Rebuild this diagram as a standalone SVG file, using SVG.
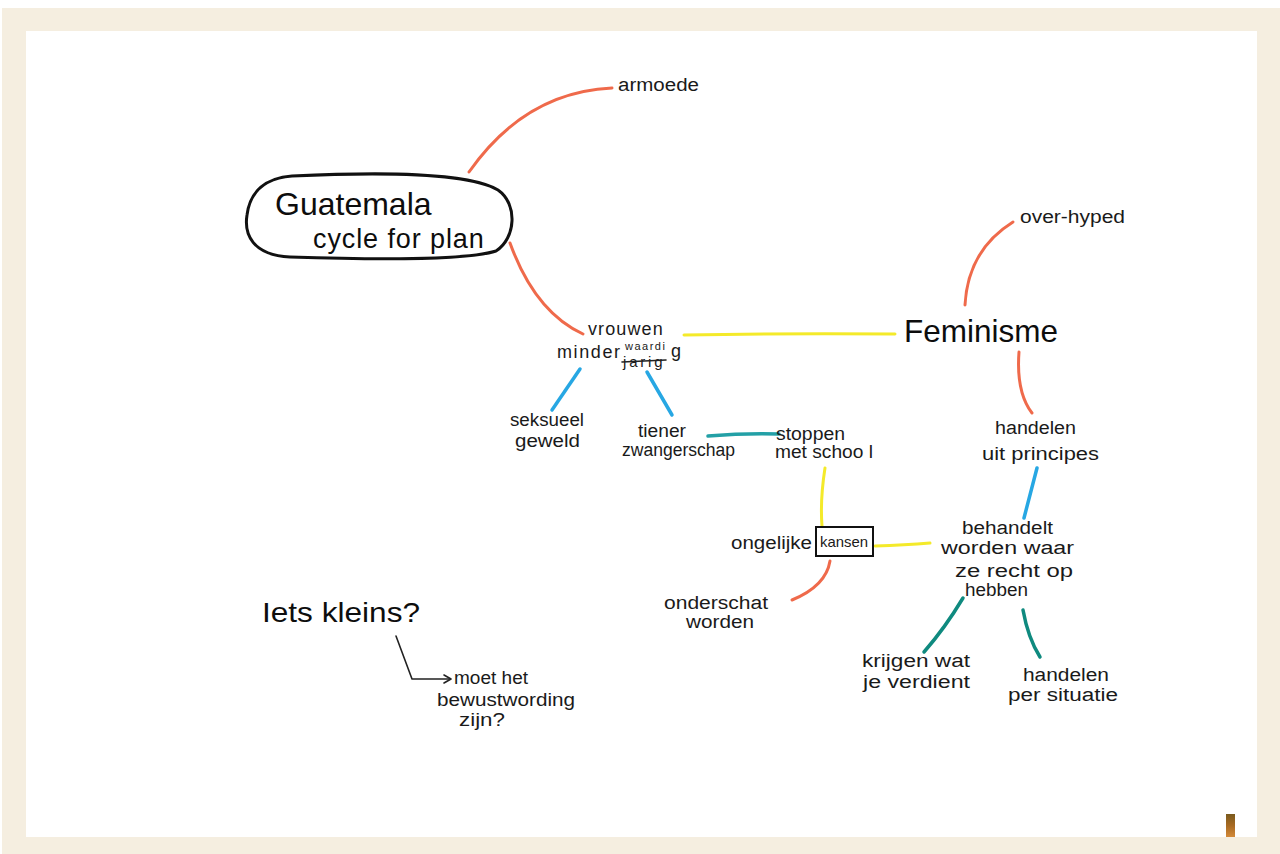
<svg xmlns="http://www.w3.org/2000/svg" width="1280" height="854" viewBox="0 0 1280 854">
  <defs>
    <style>
      .lbl { font-family: "Liberation Sans", "DejaVu Sans", sans-serif; font-size: 18px; fill: #1a1a1a; }
      .big { font-family: "Liberation Sans", "DejaVu Sans", sans-serif; fill: #0d0d0d; }
      .red { stroke: #ef6a4b; stroke-width: 3; fill: none; stroke-linecap: round; }
      .yel { stroke: #f4ea2a; stroke-width: 3; fill: none; stroke-linecap: round; }
      .blu { stroke: #27a7e3; stroke-width: 3.5; fill: none; stroke-linecap: round; }
      .tea { stroke: #0f8a7f; stroke-width: 3.5; fill: none; stroke-linecap: round; }
      .cyn { stroke: #23a0a6; stroke-width: 3.5; fill: none; stroke-linecap: round; }
      .ink { stroke: #222; stroke-width: 1.6; fill: none; stroke-linecap: round; stroke-linejoin: round; }
    </style>
    <linearGradient id="chip" x1="0" y1="0" x2="0" y2="1">
      <stop offset="0" stop-color="#7a5a1e"/>
      <stop offset="0.5" stop-color="#a86a22"/>
      <stop offset="1" stop-color="#d48a3a"/>
    </linearGradient>
  </defs>

  <!-- mat and paper -->
  <rect x="0" y="0" width="1280" height="854" fill="#ffffff"/>
  <rect x="2" y="8" width="1278" height="846" fill="#f5eee0"/>
  <rect x="26" y="31" width="1231" height="806" fill="#ffffff"/>
  <rect x="1226" y="814" width="9" height="23" fill="url(#chip)"/>

  <!-- connectors -->
  <g id="connectors">
    <path class="red" d="M469,172 Q525,92 612,88"/>
    <path class="red" d="M510,243 Q535,312 583,334"/>
    <path class="yel" d="M684,335 Q790,333 895,334"/>
    <path class="red" d="M965,305 Q968,250 1013,222"/>
    <path class="red" d="M1019,352 Q1016,392 1032,413"/>
    <path class="blu" d="M580,369 L552,410"/>
    <path class="blu" d="M647,372 L672,415"/>
    <path class="cyn" d="M708,436 Q745,433 779,434"/>
    <path class="yel" d="M825,468 Q820,500 822,526"/>
    <path class="yel" d="M875,546 Q905,545 930,543"/>
    <path class="blu" d="M1037,468 L1024,518"/>
    <path class="red" d="M830,561 Q826,586 792,600"/>
    <path class="tea" d="M963,598 Q945,628 924,652"/>
    <path class="tea" d="M1023,610 Q1028,638 1040,657"/>
    <path class="ink" d="M396,636 L412,679 L450,679"/>
    <path class="ink" d="M444,675 L451,679 L444,683"/>
  </g>

  <!-- central topic -->
  <g id="guatemala">
    <path d="M292,176 C380,172 468,172 498,190 C518,204 516,238 496,251 C462,262 352,259 290,257 C252,255 244,234 247,215 C250,191 266,178 292,176 Z" fill="none" stroke="#111" stroke-width="3"/>
    <text class="big" x="275" y="215" font-size="32">Guatemala</text>
    <text class="big" x="313" y="248" font-size="27" letter-spacing="0.9">cycle for plan</text>
  </g>

  <g id="armoede">
    <text class="lbl" x="618" y="91" textLength="81" lengthAdjust="spacingAndGlyphs">armoede</text>
  </g>

  <!-- "minderjarig" corrected by hand to "minderwaardig" -->
  <g id="vrouwen">
    <text class="lbl" x="588" y="335" letter-spacing="1.1">vrouwen</text>
    <text class="lbl" x="557" y="358" letter-spacing="1.6">minder</text>
    <text class="lbl" x="623" y="367" style="font-size:15px" letter-spacing="2.8">jarig</text>
    <text class="lbl" x="625" y="350" style="font-size:11px" letter-spacing="1.5">waardi</text>
    <text class="lbl" x="671" y="357">g</text>
    <path class="ink" d="M622,362 L666,360"/>
  </g>

  <g id="feminisme">
    <text class="big" x="904" y="342" font-size="32" textLength="154" lengthAdjust="spacingAndGlyphs">Feminisme</text>
  </g>

  <g id="overhyped">
    <text class="lbl" x="1020" y="223" textLength="105" lengthAdjust="spacingAndGlyphs">over-hyped</text>
  </g>

  <g id="principes">
    <text class="lbl" x="995" y="434" textLength="81" lengthAdjust="spacingAndGlyphs">handelen</text>
    <text class="lbl" x="982" y="460" textLength="117" lengthAdjust="spacingAndGlyphs">uit  principes</text>
  </g>

  <g id="seksueel">
    <text class="lbl" x="510" y="426" textLength="74" lengthAdjust="spacingAndGlyphs">seksueel</text>
    <text class="lbl" x="515" y="447" textLength="65" lengthAdjust="spacingAndGlyphs">geweld</text>
  </g>

  <g id="tiener">
    <text class="lbl" x="638" y="437" textLength="48" lengthAdjust="spacingAndGlyphs">tiener</text>
    <text class="lbl" x="622" y="456" textLength="113" lengthAdjust="spacingAndGlyphs">zwangerschap</text>
  </g>

  <g id="stoppen">
    <text class="lbl" x="776" y="440" textLength="69" lengthAdjust="spacingAndGlyphs">stoppen</text>
    <text class="lbl" x="775" y="458" textLength="98" lengthAdjust="spacingAndGlyphs">met schoo l</text>
  </g>

  <g id="kansen">
    <text class="lbl" x="731" y="549" textLength="81" lengthAdjust="spacingAndGlyphs">ongelijke</text>
    <rect x="816" y="527" width="57" height="29" fill="none" stroke="#111" stroke-width="2"/>
    <text class="lbl" x="820" y="547" style="font-size:15px" textLength="48" lengthAdjust="spacingAndGlyphs">kansen</text>
  </g>

  <g id="onderschat">
    <text class="lbl" x="664" y="609" textLength="104" lengthAdjust="spacingAndGlyphs">onderschat</text>
    <text class="lbl" x="686" y="628" textLength="68" lengthAdjust="spacingAndGlyphs">worden</text>
  </g>

  <g id="behandelt">
    <text class="lbl" x="962" y="534" textLength="91" lengthAdjust="spacingAndGlyphs">behandelt</text>
    <text class="lbl" x="941" y="554" textLength="133" lengthAdjust="spacingAndGlyphs">worden waar</text>
    <text class="lbl" x="955" y="577" textLength="118" lengthAdjust="spacingAndGlyphs">ze  recht  op</text>
    <text class="lbl" x="965" y="596" textLength="63" lengthAdjust="spacingAndGlyphs">hebben</text>
  </g>

  <g id="krijgen">
    <text class="lbl" x="862" y="667" textLength="108" lengthAdjust="spacingAndGlyphs">krijgen  wat</text>
    <text class="lbl" x="863" y="688" textLength="107" lengthAdjust="spacingAndGlyphs">je verdient</text>
  </g>

  <g id="situatie">
    <text class="lbl" x="1023" y="681" textLength="86" lengthAdjust="spacingAndGlyphs">handelen</text>
    <text class="lbl" x="1008" y="701" textLength="110" lengthAdjust="spacingAndGlyphs">per situatie</text>
  </g>

  <g id="iets-kleins">
    <text class="big" x="262" y="622" font-size="28" textLength="158" lengthAdjust="spacingAndGlyphs">Iets kleins?</text>
  </g>

  <g id="bewustwording">
    <text class="lbl" x="454" y="684" textLength="74" lengthAdjust="spacingAndGlyphs">moet het</text>
    <text class="lbl" x="437" y="706" textLength="138" lengthAdjust="spacingAndGlyphs">bewustwording</text>
    <text class="lbl" x="459" y="726" textLength="46" lengthAdjust="spacingAndGlyphs">zijn?</text>
  </g>
</svg>
